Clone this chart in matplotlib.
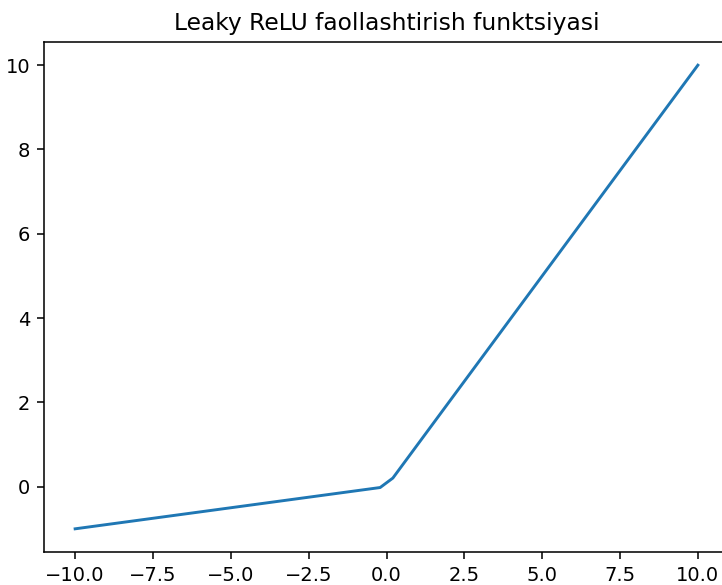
import matplotlib
matplotlib.use('Agg')
import numpy as np
import matplotlib.pyplot as plt

# points de la courbe Leaky ReLU
x_vals = [-10.0, -0.204, 0.204, 10.0]
y_vals = [-1.0, -0.0204, 0.204, 10.0]

titre = 'Leaky ReLU faollashtirish funktsiyasi'

dpi = 140  # l'image de référence est rendue ~1.4x
fig = plt.figure(figsize=(722 / dpi, 585 / dpi), dpi=dpi)
ax = fig.add_axes([44 / 722, 1 - 552 / 585, (729 - 44) / 722, (552 - 42) / 585])
ax.plot(x_vals, y_vals)
ax.set_xlim(-11, 11)
ax.set_ylim(-1.55, 10.55)
ax.set_xticks(np.arange(-10, 10.1, 2.5))
ax.set_yticks([0, 2, 4, 6, 8, 10])
ax.set_title(titre)

fig.savefig('out.png', dpi=dpi)
